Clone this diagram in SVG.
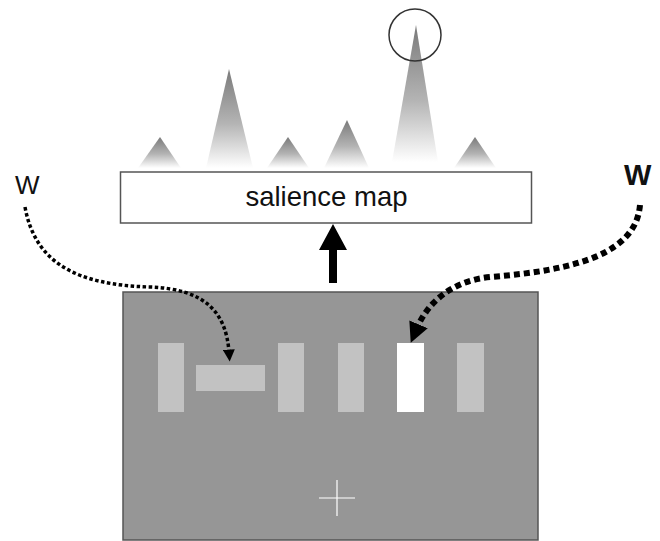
<svg xmlns="http://www.w3.org/2000/svg" width="660" height="541" viewBox="0 0 660 541">
<defs>
<linearGradient id="pk" x1="0" y1="0" x2="0" y2="1">
<stop offset="0" stop-color="#7a7a7a"/>
<stop offset="0.55" stop-color="#b4b4b4"/>
<stop offset="1" stop-color="#ffffff"/>
</linearGradient>
<marker id="hs" markerUnits="userSpaceOnUse" viewBox="0 0 10 10" refX="2" refY="5" markerWidth="12" markerHeight="12" orient="auto"><path d="M0,0 L10,5 L0,10 Z" fill="#000"/></marker>
<marker id="hb" markerUnits="userSpaceOnUse" viewBox="0 0 10 10" refX="2" refY="5" markerWidth="20" markerHeight="20" orient="auto"><path d="M0,0 L10,5 L0,10 Z" fill="#000"/></marker>
<style>
.peak{fill:url(#pk)}
.bar{fill:#c2c2c2}
.lbl{font-family:"Liberation Sans",Arial,sans-serif;fill:#111}
</style>
</defs>
<rect width="660" height="541" fill="#fff"/>
<g id="peaks">
<polygon class="peak" points="160,137 138,168 181,168"/>
<polygon class="peak" points="229,69 206,168 253,168"/>
<polygon class="peak" points="288,137 267,168 309,168"/>
<polygon class="peak" points="347,120 324,168 369,168"/>
<polygon class="peak" points="416,25 392,162 438,162"/>
<polygon class="peak" points="475,137 454,168 496,168"/>
<circle cx="415" cy="35" r="26" fill="none" stroke="#333" stroke-width="1.5"/>
</g>
<g id="salience-map">
<rect x="120.5" y="172" width="411" height="51" fill="#fff" stroke="#555" stroke-width="1.5"/>
<text class="lbl" x="326.5" y="206" font-size="27.5" text-anchor="middle">salience map</text>
</g>
<g id="display">
<rect x="123" y="292" width="415" height="248" fill="#969696" stroke="#555" stroke-width="1.5"/>
<rect class="bar" x="158" y="343" width="26" height="69"/>
<rect class="bar" x="196" y="365" width="69" height="26"/>
<rect class="bar" x="278" y="343" width="26" height="69"/>
<rect class="bar" x="338" y="343" width="26" height="69"/>
<rect x="397" y="343" width="27" height="69" fill="#fff"/>
<rect class="bar" x="457" y="343" width="27" height="69"/>
<path d="M319,498 H355 M337,480 V516" stroke="#fff" stroke-width="1.2"/>
</g>
<g id="w-left"><text class="lbl" x="15" y="194" font-size="26" fill="#222">W</text></g>
<g id="w-right"><text class="lbl" x="624" y="185" font-size="29" font-weight="bold">W</text></g>
<g id="connectors">
<polygon points="329,283 337,283 337,250 347,250 333,224 319,250 329,250" fill="#000"/>
<path d="M25,207 C 35,262 75,285 150,287 C 205,289 226,312 229,352" fill="none" stroke="#000" stroke-width="3.5" stroke-dasharray="3.5 2.5" marker-end="url(#hs)"/>
<path d="M640,205 C 636,252 580,270 490,277 C 452,281 428,302 417,328" fill="none" stroke="#000" stroke-width="6" stroke-dasharray="6 4" marker-end="url(#hb)"/>
</g>
</svg>
